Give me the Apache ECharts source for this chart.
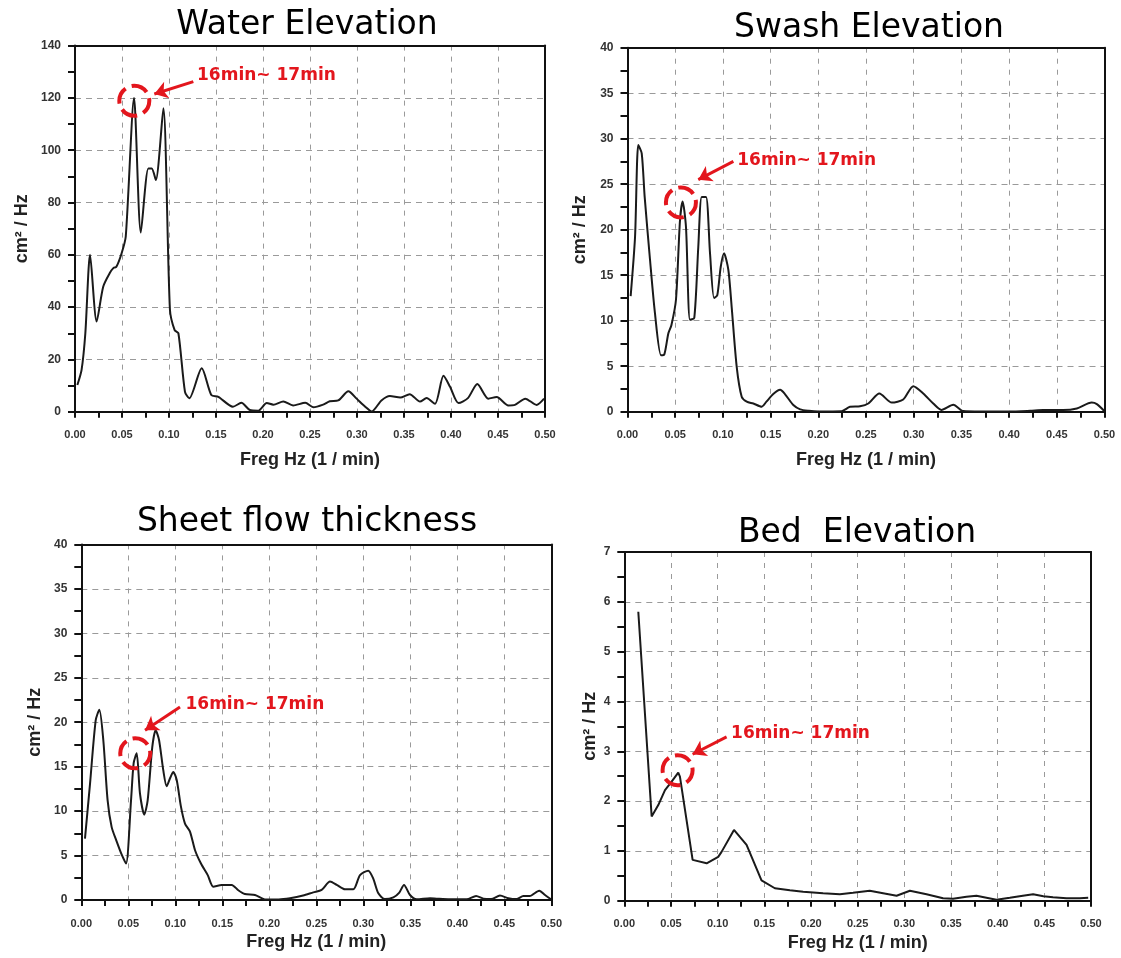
<!DOCTYPE html>
<html>
<head>
<meta charset="utf-8">
<script src="https://cdn.jsdelivr.net/npm/echarts@6/dist/echarts.min.js"></script>
<style>
html,body{margin:0;padding:0;background:#fff;}
#chart{width:1121px;height:958px;}
</style>
</head>
<body>
<div id="chart"></div>
<script>
// ---------- Data ----------
const titles = ['Water Elevation', 'Swash Elevation', 'Sheet flow thickness', 'Bed  Elevation'];
const xTickLabels = ['0.00','0.05','0.10','0.15','0.20','0.25','0.30','0.35','0.40','0.45','0.50'];
const yMax = [140, 40, 40, 7];
const yInterval = [20, 5, 5, 1];
const xName = 'Freg Hz (1 / min)';
const yName = 'cm\u00b2 / Hz';
const noteText = '16min~ 17min';

const waterF = [0.0025,0.007,0.011,0.016,0.023,0.030,0.037,0.041,0.044,0.0496,0.054,0.0628,0.070,0.078,0.0816,0.086,0.094,0.101,0.106,0.110,0.117,0.1216,0.1348,0.145,0.1525,0.168,0.177,0.186,0.195,0.204,0.211,0.2216,0.232,0.245,0.2535,0.264,0.271,0.280,0.2908,0.2996,0.3085,0.3156,0.326,0.335,0.346,0.356,0.367,0.374,0.383,0.392,0.399,0.408,0.418,0.428,0.4397,0.4486,0.461,0.468,0.479,0.491,0.499];
const waterV = [10.2,16,30,60,34.5,47.8,53,55,55.4,60.6,67,120,68.5,93,93,88.6,116,39,31.2,30,7.6,5.1,16.6,6.4,5.7,1.9,3.4,0.65,0.4,3.3,2.7,3.9,2.4,3.4,1.7,2.7,4,4.3,7.8,5,2,0.1,4.3,6,5.4,6.7,3.9,5.2,3,13.7,9.5,3.3,5.2,10.6,5,5.6,2.4,2.6,5,2.6,5];

const swashF = [0.0033,0.0079,0.0113,0.0149,0.018,0.0236,0.0288,0.0351,0.0386,0.0428,0.046,0.0508,0.055,0.0578,0.0613,0.0655,0.070,0.0742,0.0778,0.0823,0.0865,0.0907,0.0941,0.0977,0.1012,0.1057,0.1092,0.1145,0.1197,0.125,0.1319,0.1407,0.1456,0.1528,0.16,0.165,0.1738,0.181,0.19,0.2,0.2245,0.2332,0.2437,0.2524,0.264,0.277,0.289,0.2996,0.31,0.3205,0.329,0.3415,0.352,0.37,0.40,0.422,0.4357,0.4566,0.471,0.4866,0.492,0.5];
const swashV = [12.7,19.2,29.3,28.4,23.6,16.7,10.8,6.2,6.3,8.6,9.5,12.3,21,23.1,20.3,10.1,10.3,18.1,23.6,23.6,17.4,12.5,12.8,15.9,17.4,15.6,11.5,4.9,1.65,1.1,0.9,0.55,1.1,1.94,2.4,1.94,0.73,0.26,0.1,0.02,0.05,0.54,0.6,0.9,2.0,1.0,1.34,2.8,2.0,0.9,0.2,0.76,0.07,0.02,0.02,0.1,0.18,0.18,0.36,1.0,0.83,0.05];

const sheetF = [0.0039,0.0093,0.0153,0.0192,0.0234,0.028,0.0323,0.0376,0.043,0.0476,0.0529,0.0557,0.0589,0.0624,0.067,0.0706,0.0755,0.0791,0.0827,0.0872,0.0908,0.0944,0.0979,0.1015,0.106,0.1103,0.1156,0.121,0.1273,0.1345,0.1404,0.1494,0.16,0.167,0.174,0.1848,0.1954,0.21,0.222,0.236,0.2468,0.2557,0.2646,0.2717,0.2805,0.2894,0.2965,0.3053,0.3106,0.316,0.323,0.332,0.3383,0.3433,0.3497,0.3568,0.371,0.378,0.392,0.41,0.42,0.4277,0.436,0.4454,0.4543,0.463,0.4702,0.477,0.4872,0.4933,0.5];
const sheetV = [6.9,13.1,20.2,21.4,18,11.2,8.2,6.6,5.1,4.1,11.2,15.4,16.5,12,9.6,11.2,17.2,19.1,18,14.6,12.8,13.7,14.4,13.5,10.5,8.6,7.7,5.6,4.1,2.8,1.5,1.7,1.7,1.1,0.67,0.56,0.07,0.07,0.2,0.5,0.86,1.13,2.07,1.7,1.2,1.2,2.8,3.3,2.4,0.75,0.1,0.3,0.83,1.7,0.56,0.08,0.2,0.15,0.08,0.08,0.45,0.15,0.1,0.5,0.2,0.1,0.45,0.45,1.05,0.56,0.05];

const bedF = [0.015,0.0293,0.0364,0.0436,0.0507,0.0578,0.0596,0.0732,0.0882,0.1006,0.1042,0.1175,0.131,0.147,0.1613,0.1774,0.1916,0.213,0.231,0.245,0.263,0.2773,0.2917,0.306,0.3238,0.3415,0.3522,0.3666,0.3773,0.388,0.3987,0.413,0.427,0.438,0.449,0.4593,0.4737,0.488,0.497];
const bedV = [5.8,1.69,1.92,2.22,2.39,2.57,2.49,0.82,0.75,0.88,0.98,1.42,1.12,0.41,0.25,0.21,0.18,0.15,0.13,0.16,0.2,0.15,0.1,0.2,0.13,0.05,0.04,0.08,0.1,0.06,0.02,0.06,0.1,0.13,0.09,0.07,0.05,0.05,0.06];

// annotation anchors in data coordinates: circle centre, arrow start, arrow tip, text start
const circleAt = [[0.0631,118.9],[0.056,23],[0.0574,16.5],[0.0571,2.62]];
const arrowFrom = [[0.1259,126.2],[0.111,27.5],[0.105,21.7],[0.1096,3.29]];
const arrowTo = [[0.0844,121.5],[0.0742,25.5],[0.0678,19.1],[0.0732,2.94]];
const textAt = [[0.1293,128.7],[0.1145,27.6],[0.1103,22],[0.1139,3.36]];

const seriesF = [waterF, swashF, sheetF, bedF];
const seriesV = [waterV, swashV, sheetV, bedV];

// ---------- Layout ----------
const boxes = [
  {l:75, r:545, t:45.6, b:411.7, tx:307, ty:26, yGap:44, xGap:39},
  {l:627.5, r:1104.5, t:47.7, b:411.7, tx:869, ty:29, yGap:38, xGap:39},
  {l:81.3, r:551.3, t:544.4, b:900, tx:307, ty:523, yGap:37, xGap:33},
  {l:624.3, r:1091, t:552, b:900.7, tx:857, ty:534, yGap:25, xGap:33}
];
const RED = '#e3161d';
const FONT = '"Liberation Sans", Arial, sans-serif';
const TFONT = '"DejaVu Sans", sans-serif';

const grid = [], xAxis = [], yAxis = [], title = [], series = [];
const frameX = [], frameY = [];
boxes.forEach((bx, i) => {
  grid.push({left: bx.l, top: bx.t, width: bx.r - bx.l, height: bx.b - bx.t, show: false});
  title.push({text: titles[i], left: bx.tx, top: bx.ty - 17, textAlign: 'center', padding: 0,
    textStyle: {fontFamily: TFONT, fontSize: 33, fontWeight: 'normal', color: '#000'}});
  xAxis.push({type: 'value', gridIndex: i, min: 0, max: 0.5, interval: 0.05,
    name: xName, nameLocation: 'middle', nameGap: bx.xGap,
    nameTextStyle: {fontFamily: FONT, fontSize: 18, fontWeight: 'bold', color: '#222'},
    axisLine: {show: true, onZero: false, lineStyle: {color: '#111', width: 2}},
    axisTick: {show: true, inside: false, length: 6, lineStyle: {color: '#111', width: 2}},
    minorTick: {show: true, splitNumber: 2, length: 6, lineStyle: {color: '#111', width: 2}},
    axisLabel: {margin: 18, fontFamily: FONT, fontSize: 11, fontWeight: 'bold', color: '#333',
      formatter: v => xTickLabels[Math.round(v / 0.05)] || ''},
    splitLine: {show: true, lineStyle: {color: '#9a9a9a', width: 1, type: [5, 6]}}
  });
  yAxis.push({type: 'value', gridIndex: i, min: 0, max: yMax[i], interval: yInterval[i],
    name: yName, nameLocation: 'middle', nameGap: bx.yGap, nameRotate: 90,
    nameTextStyle: {fontFamily: FONT, fontSize: 18, fontWeight: 'bold', color: '#222'},
    axisLine: {show: true, onZero: false, lineStyle: {color: '#111', width: 2}},
    axisTick: {show: true, inside: false, length: 7, lineStyle: {color: '#111', width: 2}},
    minorTick: {show: true, splitNumber: 2, length: 7, lineStyle: {color: '#111', width: 2}},
    axisLabel: {margin: 14, fontFamily: FONT, fontSize: 12, fontWeight: 'bold', color: '#333'},
    splitLine: {show: true, lineStyle: {color: '#9a9a9a', width: 1, type: [6, 5]}}
  });
  // frame: top and right solid lines
  frameX.push({type: 'value', gridIndex: i, position: 'top', min: 0, max: 0.5, z: 5,
    axisLine: {show: true, onZero: false, lineStyle: {color: '#111', width: 2}},
    axisTick: {show: false}, axisLabel: {show: false}, splitLine: {show: false}});
  frameY.push({type: 'value', gridIndex: i, position: 'right', min: 0, max: yMax[i], z: 5,
    axisLine: {show: true, onZero: false, lineStyle: {color: '#111', width: 2}},
    axisTick: {show: false}, axisLabel: {show: false}, splitLine: {show: false}});
  const data = seriesF[i].map((f, k) => [f, seriesV[i][k]]);
  series.push({type: 'line', xAxisIndex: i, yAxisIndex: i, data: data,
    showSymbol: false, symbol: 'none', smooth: i === 3 ? false : 0.25,
    lineStyle: {color: '#1a1a1a', width: 2},
    animation: false, silent: true, z: 3,
    markPoint: {silent: true, animation: false,
      data: [
        {coord: circleAt[i], symbol: 'circle', symbolSize: 30,
          itemStyle: {color: 'rgba(0,0,0,0)', borderColor: RED, borderWidth: 4, borderType: [17, 6.5], borderDashOffset: 3},
          label: {show: false}},
        {coord: textAt[i], symbol: 'circle', symbolSize: 1,
          itemStyle: {color: 'rgba(0,0,0,0)'},
          label: {show: true, position: 'right', distance: 0, formatter: noteText,
            fontFamily: TFONT, fontSize: 17, fontWeight: 'bold', color: RED}}
      ]},
    markLine: {silent: true, animation: false, symbolSize: 13,
      label: {show: false},
      lineStyle: {color: RED, width: 3, type: 'solid'},
      data: [[{coord: arrowFrom[i], symbol: 'none'}, {coord: arrowTo[i], symbol: 'arrow'}]]}
  });
});

const chart = echarts.init(document.getElementById('chart'), null, {renderer: 'canvas'});
chart.setOption({animation: false, backgroundColor: '#fff', title, grid,
  xAxis: xAxis.concat(frameX), yAxis: yAxis.concat(frameY), series});
</script>
</body>
</html>
